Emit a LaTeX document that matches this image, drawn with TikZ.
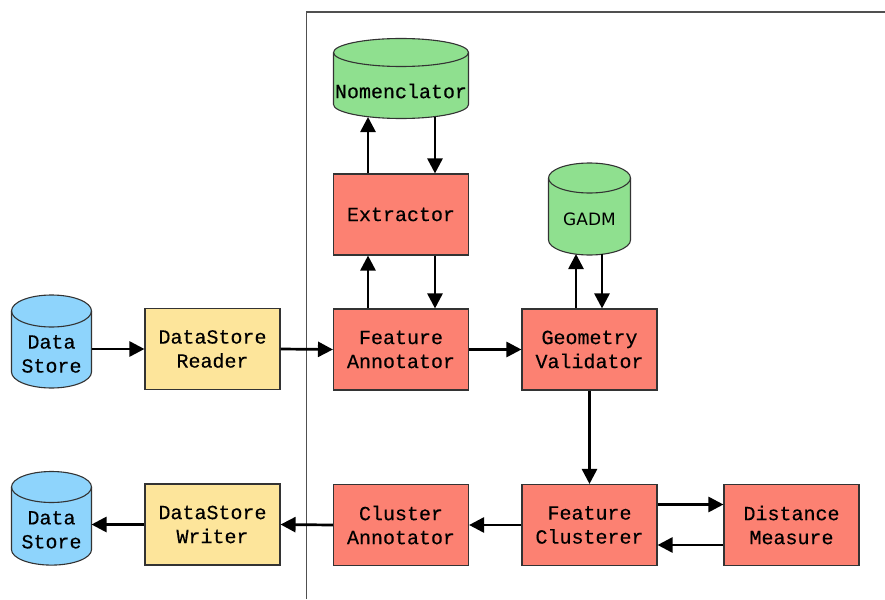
\documentclass[tikz,border=0pt]{standalone}
\usepackage{fontspec}
\newfontfamily\boxfont[FakeBold=0.3]{Liberation Mono}
\newfontfamily\gadmfont{DejaVu Sans}
\usetikzlibrary{arrows.meta}

\definecolor{procred}{HTML}{FC8172}
\definecolor{iofill}{HTML}{FDE59B}
\definecolor{storeblue}{HTML}{8ED4FC}
\definecolor{dictgreen}{HTML}{8FE08F}
\definecolor{boxline}{HTML}{333333}
\definecolor{frameline}{HTML}{505050}

\tikzset{
  proc/.style={draw=boxline, fill=procred, line width=1.1pt,
    minimum width=135pt, minimum height=81pt, inner sep=0pt,
    align=center, font=\boxfont\fontsize{20}{24}\selectfont},
  iobox/.style={proc, fill=iofill},
  dbbox/.style={inner sep=0pt, outer sep=0pt},
  dbline/.style={draw=boxline, line width=1.1pt},
  dbtext/.style={align=center, inner sep=0pt, font=\boxfont\fontsize{20}{24}\selectfont},
  flow/.style={line width=2.7pt, -{Triangle[length=15pt, width=15pt]}},
  frame/.style={draw=frameline, line width=1.5pt}
}

% database cylinder: name, centre, x radius, half height, y radius, fill, text drop, text style, text
\newcommand{\dbnode}[9]{%
  \begin{scope}[shift={#2}]
    \fill[#6] (-#3,-#4+#5) -- (-#3,#4-#5)
      arc[start angle=180, end angle=360, x radius=#3pt, y radius=#5pt]
      -- (#3,-#4+#5)
      arc[start angle=0, end angle=180, x radius=#3pt, y radius=#5pt] -- cycle;
    \draw[dbline] (-#3,-#4+#5) -- (-#3,#4-#5)
      arc[start angle=180, end angle=360, x radius=#3pt, y radius=#5pt]
      -- (#3,-#4+#5)
      arc[start angle=0, end angle=180, x radius=#3pt, y radius=#5pt] -- cycle;
    \draw[dbline] (-#3,-#4+#5)
      arc[start angle=180, end angle=360, x radius=#3pt, y radius=#5pt];
  \end{scope}
  \node[dbbox, minimum width={2*#3pt}, minimum height={2*#4pt}] (#1) at #2 {};
  \node[dbtext, #8] (#1-label) at ([yshift=-#7pt]#1.center) {#9};
}

\begin{document}
\begin{tikzpicture}[x=1pt, y=-1pt]
\useasboundingbox (0,0) rectangle (885,599);

% boundary of the processing pipeline
\draw[frame] (306.5,599) -- (306.5,12) -- (885,12);

% data stores and dictionaries
\dbnode{dsin}{(51.5,341.5)}{40}{46.5}{16}{storeblue}{12.5}{}{Data\\Store}
\dbnode{dsout}{(51.5,518.3)}{40}{46.8}{15.5}{storeblue}{11.5}{}{Data\\Store}
\dbnode{nomen}{(401,78.5)}{67.5}{40}{14}{dictgreen}{12.5}{}{Nomenclator}
\dbnode{gadm}{(589.5,209)}{41}{46}{15}{dictgreen}{10.5}{font=\gadmfont\fontsize{17}{20}\selectfont}{GADM}

% processing components
\node[iobox] (reader) at (212.5,349) {DataStore\\Reader};
\node[proc] (fann) at (401,349.5) {Feature\\Annotator};
\node[proc] (extr) at (401,214.5) {Extractor};
\node[proc] (geov) at (589.5,349.5) {Geometry\\Validator};
\node[iobox] (writer) at (212.5,524.5) {DataStore\\Writer};
\node[proc] (cann) at (401,525) {Cluster\\Annotator};
\node[proc] (fclu) at (589.5,525) {Feature\\Clusterer};
\node[proc] (dist) at (791.5,525) {Distance\\Measure};

% top row flow
\draw[flow] (dsin.east |- reader.west) -- (reader.west);
\draw[flow] (reader.east) -- (fann.west);
\draw[flow] (fann.east) -- (geov.west);

% annotator <-> extractor <-> nomenclator
\draw[flow] ([xshift=-33pt]fann.north) -- ([xshift=-33pt]extr.south);
\draw[flow] ([xshift=34pt]extr.south) -- ([xshift=34pt]fann.north);
\draw[flow] ([xshift=-33pt]extr.north) -- ([xshift=-33pt,yshift=1.5pt]nomen.south);
\draw[flow] ([xshift=34pt,yshift=1.5pt]nomen.south) -- ([xshift=34pt]extr.north);

% validator <-> GADM
\draw[flow] ([xshift=-13.5pt]geov.north) -- ([xshift=-13.5pt,yshift=1pt]gadm.south);
\draw[flow] ([xshift=12.5pt,yshift=1pt]gadm.south) -- ([xshift=12.5pt]geov.north);

% down to clustering
\draw[flow] (geov.south) -- (fclu.north);

% clusterer <-> distance measure
\draw[flow] ([yshift=20.5pt]fclu.east) -- ([yshift=20.5pt]dist.west);
\draw[flow] ([yshift=-20pt]dist.west) -- ([yshift=-20pt]fclu.east);

% bottom row flow
\draw[flow] (fclu.west) -- (cann.east);
\draw[flow] (cann.west) -- (writer.east);
\draw[flow] (writer.west) -- (dsout.east |- writer.west);
\end{tikzpicture}
\end{document}
